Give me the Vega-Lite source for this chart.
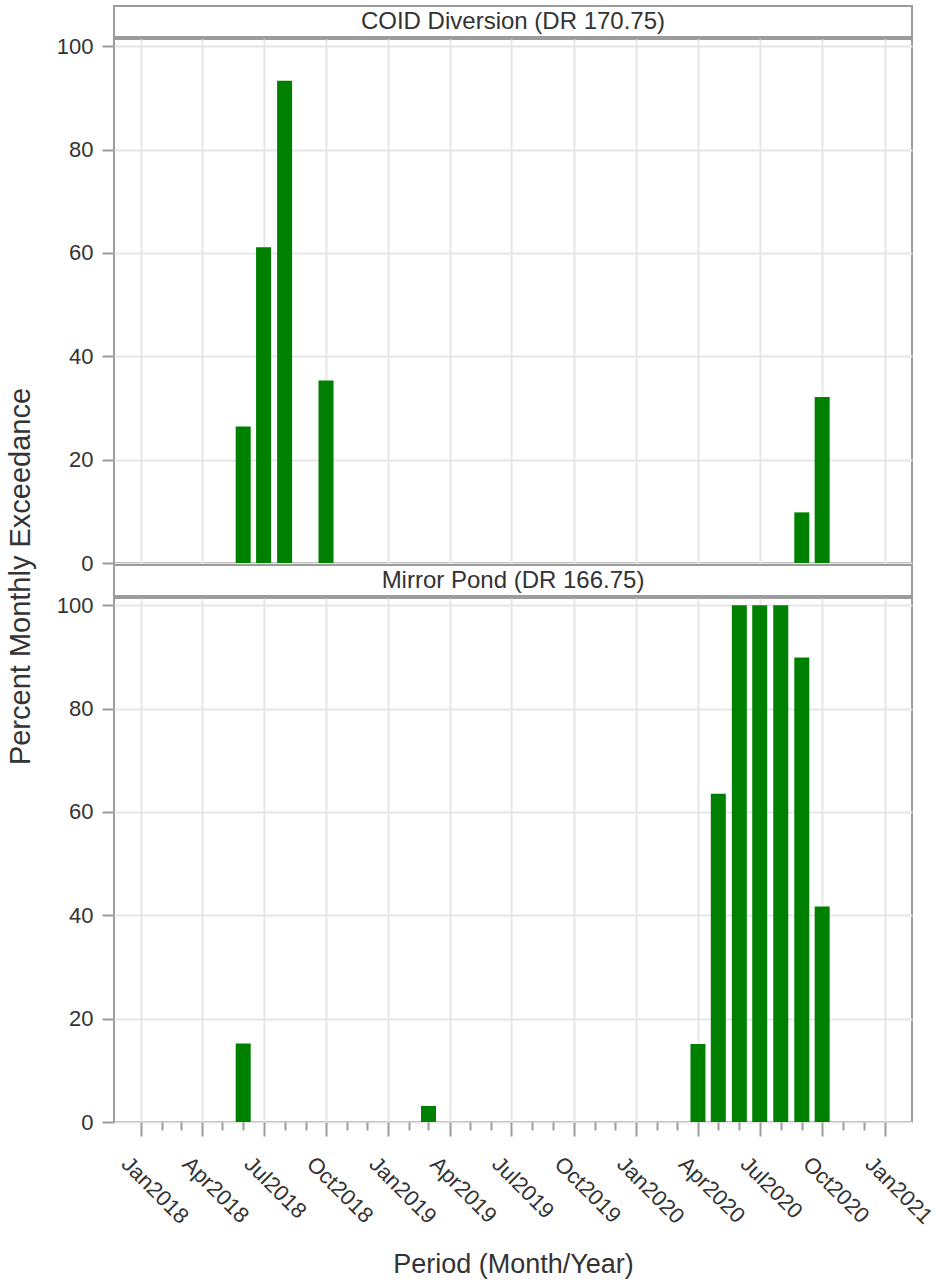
{
  "$schema": "https://vega.github.io/schema/vega-lite/v6.json",
  "background": "white",
  "padding": {"left": 5, "top": 5, "right": 35, "bottom": 5},
  "bounds": "flush",
  "spacing": 2,
  "config": {
    "font": "Liberation Sans",
    "view": {"stroke": "#9c9c9c", "strokeWidth": 2},
    "axis": {
      "gridColor": "#e6e6e6",
      "gridWidth": 2,
      "tickColor": "#9c9c9c",
      "tickWidth": 2,
      "labelColor": "#333333",
      "titleColor": "#333333",
      "labelFontSize": 22,
      "titleFontWeight": "normal",
      "domain": false
    }
  },
  "datasets": {
    "exceedance": [
      {"site": "COID Diversion (DR 170.75)", "period": "2018-06-01", "pct": 26.4},
      {"site": "COID Diversion (DR 170.75)", "period": "2018-07-01", "pct": 61.1},
      {"site": "COID Diversion (DR 170.75)", "period": "2018-08-01", "pct": 93.3},
      {"site": "COID Diversion (DR 170.75)", "period": "2018-10-01", "pct": 35.3},
      {"site": "COID Diversion (DR 170.75)", "period": "2020-09-01", "pct": 9.8},
      {"site": "COID Diversion (DR 170.75)", "period": "2020-10-01", "pct": 32.1},
      {"site": "Mirror Pond (DR 166.75)", "period": "2018-06-01", "pct": 15.2},
      {"site": "Mirror Pond (DR 166.75)", "period": "2019-03-01", "pct": 3.1},
      {"site": "Mirror Pond (DR 166.75)", "period": "2020-04-01", "pct": 15.1},
      {"site": "Mirror Pond (DR 166.75)", "period": "2020-05-01", "pct": 63.5},
      {"site": "Mirror Pond (DR 166.75)", "period": "2020-06-01", "pct": 100},
      {"site": "Mirror Pond (DR 166.75)", "period": "2020-07-01", "pct": 100},
      {"site": "Mirror Pond (DR 166.75)", "period": "2020-08-01", "pct": 100},
      {"site": "Mirror Pond (DR 166.75)", "period": "2020-09-01", "pct": 89.9},
      {"site": "Mirror Pond (DR 166.75)", "period": "2020-10-01", "pct": 41.7}
    ]
  },
  "vconcat": [
    {
      "width": 798,
      "height": 31,
      "view": {"stroke": "#9c9c9c", "strokeWidth": 2, "fill": "white"},
      "data": {"values": [{"label": "COID Diversion (DR 170.75)"}]},
      "mark": {"type": "text", "fontSize": 24, "color": "#333333", "baseline": "middle", "align": "center"},
      "encoding": {"text": {"field": "label"}}
    },
    {
      "width": 798,
      "height": 524,
      "data": {"name": "exceedance"},
      "transform": [{"filter": "datum.site === 'COID Diversion (DR 170.75)'"}],
      "mark": {"type": "bar", "size": 15, "color": "#008000"},
      "encoding": {
        "x": {
          "field": "period",
          "type": "temporal",
          "scale": {"type": "utc", "domain": [{"year": 2017, "month": 11, "date": 30, "utc": true}, {"year": 2021, "month": 2, "date": 3, "utc": true}]},
          "axis": {
            "title": null,
            "labels": false,
            "ticks": false,
            "values": [
              {"year": 2018, "month": 1, "date": 1, "utc": true},
              {"year": 2018, "month": 4, "date": 1, "utc": true},
              {"year": 2018, "month": 7, "date": 1, "utc": true},
              {"year": 2018, "month": 10, "date": 1, "utc": true},
              {"year": 2019, "month": 1, "date": 1, "utc": true},
              {"year": 2019, "month": 4, "date": 1, "utc": true},
              {"year": 2019, "month": 7, "date": 1, "utc": true},
              {"year": 2019, "month": 10, "date": 1, "utc": true},
              {"year": 2020, "month": 1, "date": 1, "utc": true},
              {"year": 2020, "month": 4, "date": 1, "utc": true},
              {"year": 2020, "month": 7, "date": 1, "utc": true},
              {"year": 2020, "month": 10, "date": 1, "utc": true},
              {"year": 2021, "month": 1, "date": 1, "utc": true}
            ]
          }
        },
        "y": {
          "field": "pct",
          "type": "quantitative",
          "scale": {"domain": [0, 101.4], "nice": false},
          "axis": {
            "values": [0, 20, 40, 60, 80, 100],
            "tickSize": 12,
            "labelPadding": 9,
            "title": "Percent Monthly Exceedance",
            "titleFontSize": 29,
            "titlePadding": 21,
            "titleY": 537
          }
        }
      }
    },
    {
      "width": 798,
      "height": 31,
      "view": {"stroke": "#9c9c9c", "strokeWidth": 2, "fill": "white"},
      "data": {"values": [{"label": "Mirror Pond (DR 166.75)"}]},
      "mark": {"type": "text", "fontSize": 24, "color": "#333333", "baseline": "middle", "align": "center"},
      "encoding": {"text": {"field": "label"}}
    },
    {
      "width": 798,
      "height": 524,
      "data": {"name": "exceedance"},
      "transform": [{"filter": "datum.site === 'Mirror Pond (DR 166.75)'"}],
      "mark": {"type": "bar", "size": 15, "color": "#008000"},
      "encoding": {
        "x": {
          "field": "period",
          "type": "temporal",
          "scale": {"type": "utc", "domain": [{"year": 2017, "month": 11, "date": 30, "utc": true}, {"year": 2021, "month": 2, "date": 3, "utc": true}]},
          "axis": {
            "title": "Period (Month/Year)",
            "titleFontSize": 27,
            "titlePadding": 24,
            "labelAngle": 45,
            "labelAlign": "left",
            "labelBaseline": "top",
            "labelPadding": 17,
            "labelOffset": -9,
            "labelOverlap": false,
            "labelBound": false,
            "labelFlush": false,
            "labelExpr": "utcmonth(datum.value) % 3 === 0 ? utcFormat(datum.value, '%b%Y') : ''",
            "tickSize": {"condition": {"test": "utcmonth(datum.value) % 3 === 0", "value": 14}, "value": 8},
            "gridOpacity": {"condition": {"test": "utcmonth(datum.value) % 3 === 0", "value": 1}, "value": 0},
            "values": [
              {"year": 2018, "month": 1, "date": 1, "utc": true},
              {"year": 2018, "month": 2, "date": 1, "utc": true},
              {"year": 2018, "month": 3, "date": 1, "utc": true},
              {"year": 2018, "month": 4, "date": 1, "utc": true},
              {"year": 2018, "month": 5, "date": 1, "utc": true},
              {"year": 2018, "month": 6, "date": 1, "utc": true},
              {"year": 2018, "month": 7, "date": 1, "utc": true},
              {"year": 2018, "month": 8, "date": 1, "utc": true},
              {"year": 2018, "month": 9, "date": 1, "utc": true},
              {"year": 2018, "month": 10, "date": 1, "utc": true},
              {"year": 2018, "month": 11, "date": 1, "utc": true},
              {"year": 2018, "month": 12, "date": 1, "utc": true},
              {"year": 2019, "month": 1, "date": 1, "utc": true},
              {"year": 2019, "month": 2, "date": 1, "utc": true},
              {"year": 2019, "month": 3, "date": 1, "utc": true},
              {"year": 2019, "month": 4, "date": 1, "utc": true},
              {"year": 2019, "month": 5, "date": 1, "utc": true},
              {"year": 2019, "month": 6, "date": 1, "utc": true},
              {"year": 2019, "month": 7, "date": 1, "utc": true},
              {"year": 2019, "month": 8, "date": 1, "utc": true},
              {"year": 2019, "month": 9, "date": 1, "utc": true},
              {"year": 2019, "month": 10, "date": 1, "utc": true},
              {"year": 2019, "month": 11, "date": 1, "utc": true},
              {"year": 2019, "month": 12, "date": 1, "utc": true},
              {"year": 2020, "month": 1, "date": 1, "utc": true},
              {"year": 2020, "month": 2, "date": 1, "utc": true},
              {"year": 2020, "month": 3, "date": 1, "utc": true},
              {"year": 2020, "month": 4, "date": 1, "utc": true},
              {"year": 2020, "month": 5, "date": 1, "utc": true},
              {"year": 2020, "month": 6, "date": 1, "utc": true},
              {"year": 2020, "month": 7, "date": 1, "utc": true},
              {"year": 2020, "month": 8, "date": 1, "utc": true},
              {"year": 2020, "month": 9, "date": 1, "utc": true},
              {"year": 2020, "month": 10, "date": 1, "utc": true},
              {"year": 2020, "month": 11, "date": 1, "utc": true},
              {"year": 2020, "month": 12, "date": 1, "utc": true},
              {"year": 2021, "month": 1, "date": 1, "utc": true}
            ]
          }
        },
        "y": {
          "field": "pct",
          "type": "quantitative",
          "scale": {"domain": [0, 101.4], "nice": false},
          "axis": {
            "values": [0, 20, 40, 60, 80, 100],
            "tickSize": 12,
            "labelPadding": 9,
            "title": null
          }
        }
      }
    }
  ]
}
